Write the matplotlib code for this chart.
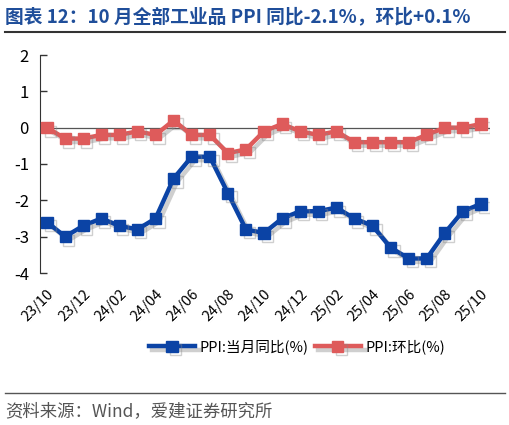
import matplotlib.pyplot as plt
import matplotlib.patheffects as pe

plt.rcParams['font.family'] = ['Noto Sans CJK SC', 'DejaVu Sans']

# monthly data 23/10 .. 25/10
months = ['23/10', '23/11', '23/12', '24/01', '24/02', '24/03', '24/04', '24/05',
          '24/06', '24/07', '24/08', '24/09', '24/10', '24/11', '24/12', '25/01',
          '25/02', '25/03', '25/04', '25/05', '25/06', '25/07', '25/08', '25/09', '25/10']
ppi_yoy = [-2.6, -3.0, -2.7, -2.5, -2.7, -2.8, -2.5, -1.4, -0.8, -0.8, -1.8, -2.8, -2.9,
           -2.5, -2.3, -2.3, -2.2, -2.5, -2.7, -3.3, -3.6, -3.6, -2.9, -2.3, -2.1]
ppi_mom = [0.0, -0.3, -0.3, -0.2, -0.2, -0.1, -0.2, 0.2, -0.2, -0.2, -0.7, -0.6, -0.1,
           0.1, -0.1, -0.2, -0.1, -0.4, -0.4, -0.4, -0.4, -0.2, 0.0, 0.0, 0.1]
yticks = [-4, -3, -2, -1, 0, 1, 2]

blue = '#0B43A5'
red = '#DE5B5B'
title_color = '#1F4E9A'

fig = plt.figure(figsize=(5.1, 4.25), dpi=100)
ax = fig.add_axes([40 / 510, 1 - 273 / 425, 450 / 510, 218 / 425])

x = list(range(len(months)))
shadow = [pe.SimpleLineShadow(offset=(2.5, -2.5), shadow_color='#888888', alpha=0.4), pe.Normal()]
ax.axhline(0, color='#555555', lw=0.9, zorder=1)
ax.plot(x, ppi_yoy, color=blue, lw=3.2, marker='s', ms=8, label='PPI:当月同比(%)',
        path_effects=shadow, zorder=3)
ax.plot(x, ppi_mom, color=red, lw=3.2, marker='s', ms=8, label='PPI:环比(%)',
        path_effects=shadow, zorder=3)

ax.set_xlim(-0.39, 24.5)
ax.set_ylim(-4, 2)
ax.set_yticks(yticks)
ax.set_yticklabels([str(v) for v in yticks], fontsize=12)
ax.set_xticks(x[::2])
ax.set_xticklabels(months[::2], rotation=45, ha='right', rotation_mode='anchor', fontsize=10.5)
ax.tick_params(axis='x', length=0, pad=10)
ax.tick_params(axis='y', direction='in', length=5, width=1, color='#333333', pad=8)
for s in ['top', 'right', 'bottom']:
    ax.spines[s].set_visible(False)
ax.spines['left'].set_color('#333333')

fig.legend(loc='center', bbox_to_anchor=(297 / 510, 1 - 347 / 425), ncol=2, frameon=False,
           fontsize=10.5, handlelength=3.2, handletextpad=0.3, columnspacing=0.4)

fig.text(5 / 510, 1 - 17 / 425, '图表 12：10 月全部工业品 PPI 同比-2.1%，环比+0.1%',
         color=title_color, fontsize=13.5, fontweight='bold', va='center', ha='left')
fig.add_artist(plt.Line2D([5 / 510, 505 / 510], [1 - 32 / 425] * 2, color='#333333', lw=1.5))
fig.add_artist(plt.Line2D([5 / 510, 505 / 510], [1 - 393 / 425] * 2, color='#555555', lw=1))
fig.text(5 / 510, 1 - 411 / 425, '资料来源：Wind，爱建证券研究所', color='#555555',
         fontsize=12.5, va='center', ha='left')

fig.savefig('out.png', dpi=100)
